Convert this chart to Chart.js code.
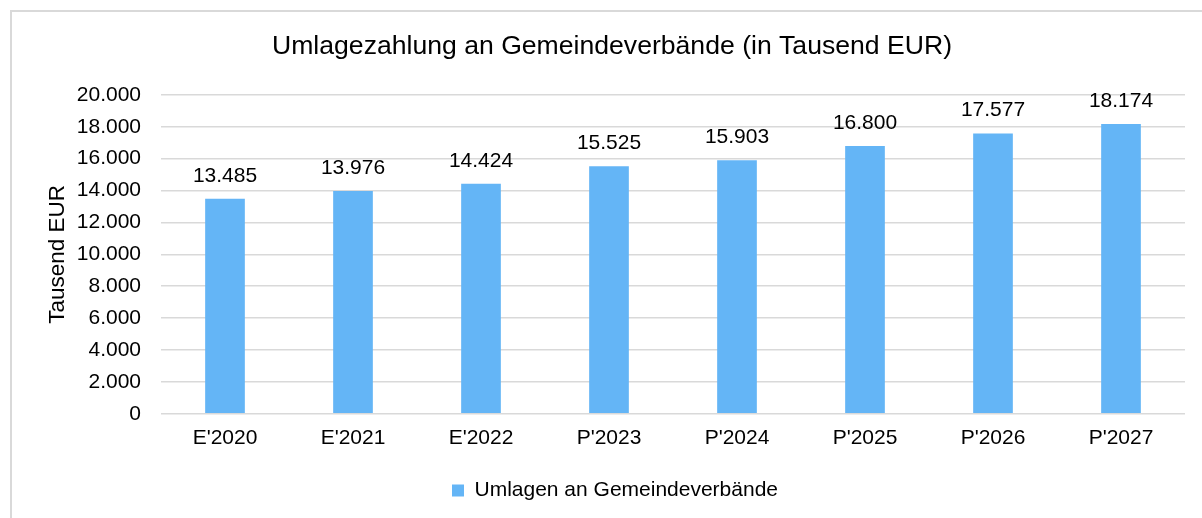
<!DOCTYPE html>
<html>
<head>
<meta charset="utf-8">
<script src="https://cdn.jsdelivr.net/npm/chart.js@4.4.1/dist/chart.umd.min.js"></script>
<style>
  html, body { margin: 0; padding: 0; background: #fff; overflow: hidden; }
  #wrap { position: relative; width: 1202px; height: 518px; overflow: hidden; }
  #frame { position: absolute; left: 10px; top: 10px; width: 1300px; height: 600px; border: 2px solid #d9d9d9; box-sizing: border-box; }
  canvas { position: absolute; left: 0; top: 0; }
</style>
</head>
<body>
<div id="wrap">
  <div id="frame"></div>
  <canvas id="chart" width="1202" height="518"></canvas>
</div>
<script>
// chart data
const categories = ["E'2020", "E'2021", "E'2022", "P'2023", "P'2024", "P'2025", "P'2026", "P'2027"];
const umlagen = [13485, 13976, 14424, 15525, 15903, 16800, 17577, 18174];
const seriesName = 'Umlagen an Gemeindeverbände';

const fontFamily = '"Liberation Sans", Arial, sans-serif';

// German number format: 13485 -> 13.485
function fmt(v) {
    return String(Math.round(v)).replace(/\B(?=(\d{3})+(?!\d))/g, '.');
}

// value labels above the bars
const valueLabels = {
    id: 'valueLabels',
    afterDatasetsDraw(chart) {
        const ctx = chart.ctx;
        const meta = chart.getDatasetMeta(0);
        ctx.save();
        ctx.font = '21px ' + fontFamily;
        ctx.fillStyle = '#000';
        ctx.textAlign = 'center';
        ctx.textBaseline = 'middle';
        meta.data.forEach((bar, i) => {
            ctx.fillText(fmt(umlagen[i]), bar.x, bar.y - 23);
        });
        ctx.restore();
    }
};

// title and legend sit a little right of centre in the original
const nudge = {
    id: 'nudge',
    afterLayout(chart) {
        chart.titleBlock.left += 14;
        chart.titleBlock.right += 14;
        chart.legend.left += 17;
        chart.legend.right += 17;
    }
};

const ctx = document.getElementById('chart').getContext('2d');
new Chart(ctx, {
    type: 'bar',
    data: {
        labels: categories,
        datasets: [{
            label: seriesName,
            data: umlagen,
            backgroundColor: '#64b5f6',
            borderWidth: 0,
            categoryPercentage: 1,
            barPercentage: 0.31
        }]
    },
    options: {
        responsive: false,
        animation: false,
        layout: { padding: { top: 22, left: 11, right: 17, bottom: 7 } },
        plugins: {
            title: {
                display: true,
                text: 'Umlagezahlung an Gemeindeverbände (in Tausend EUR)',
                color: '#000',
                font: { family: fontFamily, size: 26.6, weight: 'normal' },
                padding: { top: 9, bottom: 32 }
            },
            legend: {
                position: 'bottom',
                labels: {
                    color: '#000',
                    font: { family: fontFamily, size: 21 },
                    boxWidth: 12,
                    boxHeight: 12,
                    padding: 10
                }
            },
            tooltip: { enabled: false }
        },
        scales: {
            x: {
                grid: { display: false, drawTicks: false },
                border: { display: false },
                ticks: { color: '#000', font: { family: fontFamily, size: 21 }, padding: 12 },
                afterFit(scale) { scale.height += 7; }
            },
            y: {
                min: 0,
                max: 20000,
                ticks: {
                    stepSize: 2000,
                    color: '#000',
                    font: { family: fontFamily, size: 21 },
                    padding: 20,
                    callback: v => fmt(v)
                },
                grid: { color: '#d9d9d9', lineWidth: 1.5, drawTicks: false },
                border: { display: false },
                title: {
                    display: true,
                    text: 'Tausend EUR',
                    color: '#000',
                    font: { family: fontFamily, size: 22.5 },
                    padding: { top: 33, bottom: 0 }
                },
                afterFit(scale) { scale.width = 150; }
            }
        }
    },
    plugins: [valueLabels, nudge]
});
</script>
</body>
</html>
